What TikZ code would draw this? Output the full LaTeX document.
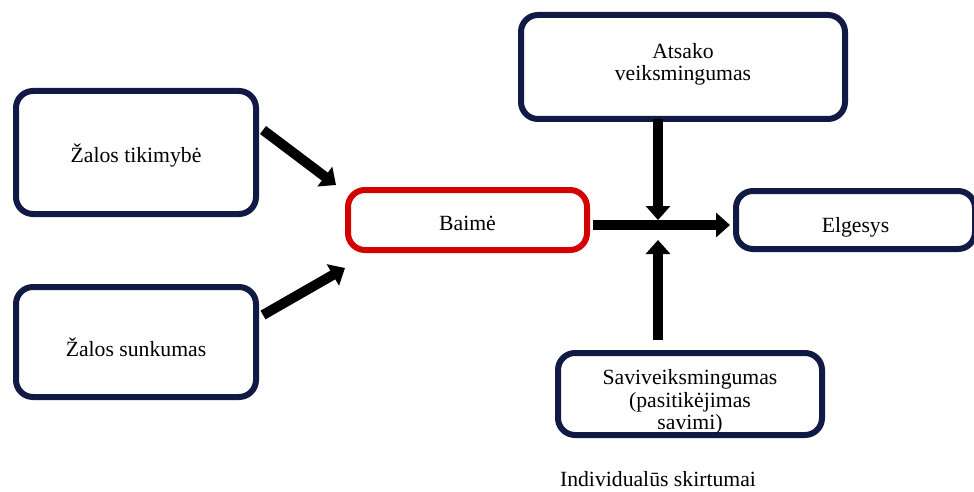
\documentclass[tikz,border=0pt]{standalone}
\usepackage{fontspec}
\setmainfont{Liberation Serif}
\usetikzlibrary{arrows.meta}
\definecolor{navy}{HTML}{111A45}
\definecolor{redb}{HTML}{D50000}
\begin{document}
\begin{tikzpicture}[x=1pt,y=-1pt,
  box/.style={draw=navy, line width=6pt, rounded corners=17pt, fill=white,
    font=\fontsize{21.7}{22.5}\selectfont, inner sep=0pt},
  mbox/.style={box, align=center},
  th/.style={text height=#1, text depth=0pt},
  redbox/.style={box, draw=redb},
  lbl/.style={font=\fontsize{21.7}{22.5}\selectfont, inner sep=0pt},
  arr/.style={line width=10pt, -{Triangle[width=24pt,length=14pt]}}
]
\useasboundingbox (0,0) rectangle (974,492);
\fill[white] (0,0) rectangle (974,492);
\node[box, th=19pt, minimum width=240pt, minimum height=123pt] (T) at (136,152.5) {Žalos tikimybė};
\node[box, th=28pt, minimum width=240pt, minimum height=110pt] (S) at (136,342) {Žalos sunkumas};
\node[redbox, th=20pt, minimum width=239pt, minimum height=60pt] (B) at (467.5,220) {Baimė};
\node[mbox, minimum width=324pt, minimum height=104pt] (A) at (683,67) {Atsako\\veiksmingumas\rule[-10pt]{0pt}{1pt}};
\node[box, th=24pt, minimum width=239pt, minimum height=58pt] (E) at (855.5,220) {Elgesys};
\node[mbox, minimum width=264pt, minimum height=82pt] (V) at (690,394) {\rule{0pt}{31pt}Saviveiksmingumas\\(pasitikėjimas\\savimi)};
\node[lbl] (I) at (658,479) {Individualūs skirtumai};
\coordinate (t1) at (263,130);
\coordinate (b1) at (336,185);
\coordinate (s1) at (263,315);
\coordinate (b2) at (345,268);
\coordinate (b3) at (593,225);
\coordinate (e1) at (730,225);
\coordinate (a1) at (658,119);
\coordinate (j1) at (658,220);
\coordinate (v1) at (658,340);
\coordinate (j2) at (658,240);
\draw[arr] (t1) -- (b1);
\draw[arr] (s1) -- (b2);
\draw[arr] (b3) -- (e1);
\draw[arr] (a1) -- (j1);
\draw[arr] (v1) -- (j2);
\end{tikzpicture}
\end{document}
